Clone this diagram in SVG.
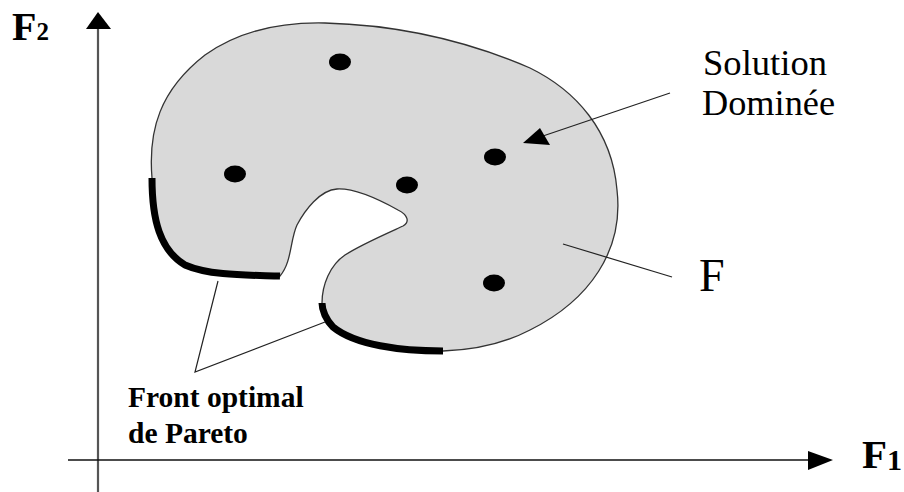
<svg xmlns="http://www.w3.org/2000/svg" width="904" height="492" viewBox="0 0 904 492">
<style>
.serif{font-family:'Liberation Serif','Times New Roman','DejaVu Serif',serif;fill:#000}
.bold{font-weight:bold}
.dot{fill:#000}
.leader{stroke:#222;stroke-width:1.2;fill:none}
.thick{stroke:#000;stroke-width:7;fill:none;stroke-linecap:butt}
</style>
<rect width="904" height="492" fill="#fff"/>
<g id="axes">
<line x1="98" y1="26" x2="98" y2="492" stroke="#555" stroke-width="2.2"/>
<polygon points="98,12 86,29 111,29" fill="#000"/>
<line x1="68" y1="460" x2="812" y2="460" stroke="#111" stroke-width="1.5"/>
<polygon points="833,460 808,451 808,470" fill="#000"/>
</g>
<g id="region-F">
<path d="M 152,178 C 148,130 160,90 205,55 C 240,30 280,22 325,23 C 400,25 470,42 530,68 C 575,90 612,130 617,190 C 624,250 590,300 530,330 C 505,343 475,350 443,351 C 400,351 355,345 333,327 C 326,320 322,310 322,303 C 322,285 330,265 345,255 C 360,245 390,232 403,226 C 410,222 408,215 398,210 C 380,200 355,188 337,189 C 320,190 305,210 297,225 C 290,240 292,262 280,276 C 250,275 210,276 185,265 C 160,250 152,220 152,178 Z" fill="#d9d9d9" stroke="#333" stroke-width="1.3"/>
</g>
<g id="pareto-front">
<path class="thick" d="M 280,276 C 250,275 210,276 185,265 C 160,250 152,220 152,178"/>
<path class="thick" d="M 443,351 C 400,351 355,345 333,327 C 326,320 322,310 322,303"/>
</g>
<g id="solutions">
<ellipse class="dot" cx="340" cy="62" rx="11" ry="8.5"/>
<ellipse class="dot" cx="235" cy="174" rx="11" ry="8.5"/>
<ellipse class="dot" cx="407" cy="185" rx="11" ry="8.5"/>
<ellipse class="dot" cx="495" cy="157" rx="11" ry="8.5"/>
<ellipse class="dot" cx="494" cy="283" rx="11" ry="8.5"/>
</g>
<g id="connectors">
<line class="leader" x1="670" y1="93" x2="540" y2="137" stroke="#333"/>
<polygon points="523,143 540,128 550,145" fill="#000"/>
<line class="leader" x1="672" y1="277" x2="563" y2="244" stroke="#555"/>
<polyline class="leader" points="218,281 195,372 325,322"/>
</g>
<g id="labels" font-family="'Liberation Serif', 'Times New Roman', serif">
<text class="serif bold" x="12" y="40" font-size="40">F<tspan font-size="25">2</tspan></text>
<text class="serif bold" x="862" y="468" font-size="41">F<tspan font-size="30" y="470">1</tspan></text>
<text class="serif" x="703" y="75" font-size="35" textLength="124" lengthAdjust="spacingAndGlyphs">Solution</text>
<text class="serif" x="702" y="115" font-size="35" textLength="133" lengthAdjust="spacingAndGlyphs">Dominée</text>
<text class="serif" x="699" y="291" font-size="46">F</text>
<text class="serif bold" x="128" y="407" font-size="29.5">Front optimal</text>
<text class="serif bold" x="128" y="443" font-size="29.5">de Pareto</text>
</g>
</svg>
